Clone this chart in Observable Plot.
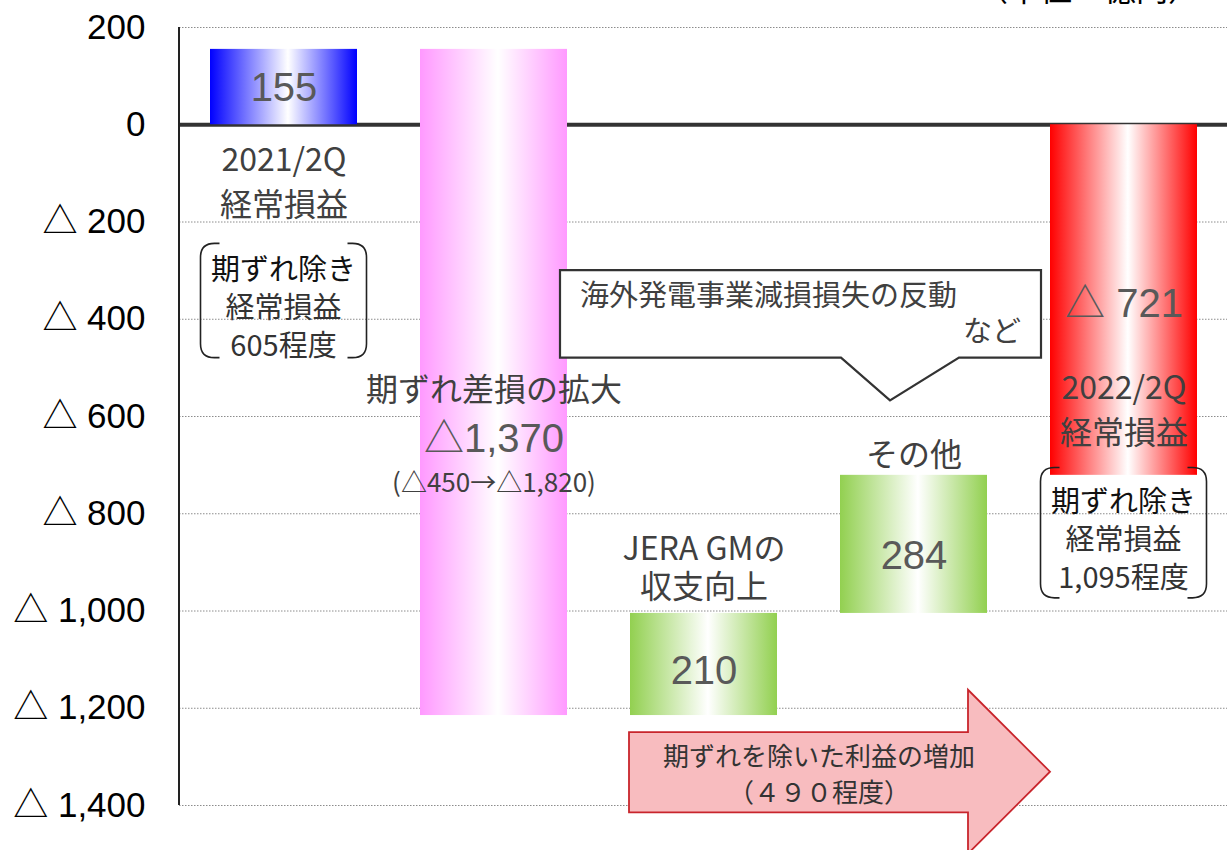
<!DOCTYPE html>
<html><head><meta charset="utf-8">
<script src="https://cdn.jsdelivr.net/npm/d3@7"></script>
<script src="https://cdn.jsdelivr.net/npm/@observablehq/plot@0.6"></script>
<style>html,body{margin:0;padding:0;background:#fff;} #chart{width:1227px;height:850px;overflow:hidden;}</style>
</head><body><div id="chart"></div>
<script>
// ---- data ----
const categories = ["2021/2Q経常損益", "期ずれ差損の拡大", "JERA GMの収支向上", "その他", "2022/2Q経常損益"];
const values = [155, -1370, 210, 284, -721];
const barKinds = ["total", "delta", "delta", "delta", "total"];
const valueLabels = ["155", "△1,370", "210", "284", "△ 721"];
const categoryLabels = ["2021/2Q\n経常損益", "期ずれ差損の拡大", "JERA GMの\n収支向上", "その他", "2022/2Q\n経常損益"];
const yTicks = [200, 0, -200, -400, -600, -800, -1000, -1200, -1400];
const breakdownNote = "(△450→△1,820)";
const note1 = ["期ずれ除き", "経常損益", "605程度"];
const note2 = ["期ずれ除き", "経常損益", "1,095程度"];
const calloutLines = ["海外発電事業減損損失の反動", "など"];
const arrowLines = ["期ずれを除いた利益の増加", "（４９０程度）"];
const unitLabel = "（単位：億円）";

// ---- build waterfall rows ----
let run = 0;
const rows = categories.map((c, i) => {
  let y1, y2;
  if (barKinds[i] === "total") { y1 = 0; y2 = values[i]; }
  else { y1 = run; y2 = run + values[i]; }
  run = y2;
  return {cat: c, y1, y2, mid: (y1 + y2) / 2, top: Math.max(y1, y2), bottom: Math.min(y1, y2)};
});

// ---- styles ----
const gradIds = ["gBlue", "gPink", "gGreen", "gGreen", "gRed"];
const gradColors = {gBlue: "#0000ff", gPink: "#ff99ff", gGreen: "#92d050", gRed: "#ff0000"};
const numFont = "'Liberation Sans', 'Noto Sans CJK JP', sans-serif";
const jpFont = "'Noto Sans CJK JP', sans-serif";
const fmt = v => v < 0 ? "△ " + d3.format(",")(-v) : String(v);

const valueDy = [1, 57, 7, 12, 4];
const catAnchor = ["y1", "mid", "top", "top", "bottom"];
const catDy = [54, 6, -47, -22, -68];
const catLH = [1.4, 1.2, 1.2, 1.2, 1.4];

const W = 1227, H = 850, ML = 179, MT = 27, MB = 45;

const plot = Plot.plot({
  width: W, height: H,
  marginLeft: ML, marginRight: 0, marginTop: MT, marginBottom: MB,
  style: {fontFamily: jpFont, background: "#fff", overflow: "hidden"},
  x: {domain: categories, paddingInner: 0.3, paddingOuter: 0.143, axis: null},
  y: {domain: [-1400, 200], axis: null},
  marks: [
    Plot.gridY(yTicks, {stroke: "#8c8c8c", strokeOpacity: 1, strokeDasharray: "1.5,1.5", strokeWidth: 1}),
    Plot.axisY(yTicks, {tickFormat: fmt, tickSize: 0, tickPadding: 34, fontSize: 35, fontFamily: numFont}),
    Plot.ruleY([0], {stroke: "#333", strokeWidth: 4}),
    ...rows.map((r, i) => Plot.barY([r], {x: "cat", y1: "y1", y2: "y2", fill: `url(#${gradIds[i]})`, inset: 0})),
    ...rows.map((r, i) => Plot.text([r], {
      x: "cat", y: "mid", text: () => valueLabels[i], dy: valueDy[i],
      fontSize: 40, fontFamily: numFont, fill: "#595959"
    })),
    ...rows.map((r, i) => Plot.text([r], {
      x: "cat", y: catAnchor[i], text: () => categoryLabels[i], dy: catDy[i],
      lineHeight: catLH[i], lineAnchor: "middle",
      fontSize: 32, fontFamily: jpFont, fill: "#404040"
    })),
    Plot.text([rows[1]], {x: "cat", y: "mid", text: () => breakdownNote, dy: 101, fontSize: 26, fontFamily: jpFont, fill: "#404040"})
  ]
});

document.getElementById("chart").appendChild(plot);

// ---- gradients & annotations ----
const svg = d3.select(plot);
const defs = svg.insert("defs", ":first-child");
for (const [id, col] of Object.entries(gradColors)) {
  const g = defs.append("linearGradient").attr("id", id).attr("x1", "0").attr("x2", "1").attr("y1", "0").attr("y2", "0");
  g.append("stop").attr("offset", "0").attr("stop-color", col);
  g.append("stop").attr("offset", "0.53").attr("stop-color", "#ffffff");
  g.append("stop").attr("offset", "1").attr("stop-color", col);
}

const xs = plot.scale("x");
const bw = xs.bandwidth;
const bx = c => xs.apply(c);
const ys = v => plot.scale("y").apply(v);

const ann = svg.append("g");

// vertical axis line
ann.append("line").attr("x1", ML).attr("x2", ML).attr("y1", ys(200)).attr("y2", ys(-1400))
  .attr("stroke", "#222").attr("stroke-width", 2);

// bracket boxes
function bracketBox(cx, yTop, yBot, halfW, lines) {
  const r = 14, tail = 5;
  const x0 = cx - halfW, x1 = cx + halfW;
  const p = `M${x0 + r + tail},${yTop} L${x0 + r},${yTop} Q${x0},${yTop} ${x0},${yTop + r} L${x0},${yBot - r} Q${x0},${yBot} ${x0 + r},${yBot} L${x0 + r + tail},${yBot}` +
    ` M${x1 - r - tail},${yTop} L${x1 - r},${yTop} Q${x1},${yTop} ${x1},${yTop + r} L${x1},${yBot - r} Q${x1},${yBot} ${x1 - r},${yBot} L${x1 - r - tail},${yBot}`;
  ann.append("path").attr("d", p).attr("fill", "none").attr("stroke", "#222").attr("stroke-width", 1.6);
  const cy = (yTop + yBot) / 2 + 4;
  lines.forEach((t, i) => {
    ann.append("text").attr("x", cx).attr("y", cy + (i - 1) * 38)
      .attr("text-anchor", "middle").attr("dominant-baseline", "central")
      .attr("font-family", jpFont).attr("font-size", 29)
      .attr("fill", i === 0 ? "#111" : "#333").text(t);
  });
}
bracketBox(bx(categories[0]) + bw / 2, ys(-245), ys(-480), 83, note1);
bracketBox(bx(categories[4]) + bw / 2, ys(-706), ys(-974), 83, note2);

// callout
{
  const left = bx(categories[2]) - 70, right = bx(categories[4]) - 9;
  const top = ys(-300), bot = ys(-480), tipY = ys(-568);
  const b1 = bx(categories[3]) + 1, tipX = bx(categories[3]) + 50, b2 = bx(categories[3]) + 119;
  ann.append("path")
    .attr("d", `M${left},${top} H${right} V${bot} H${b2} L${tipX},${tipY} L${b1},${bot} H${left} Z`)
    .attr("fill", "#fff").attr("stroke", "#333").attr("stroke-width", 2.2).attr("stroke-linejoin", "miter");
  ann.append("text").attr("x", left + 20).attr("y", top + 23).attr("dominant-baseline", "central")
    .attr("text-anchor", "start")
    .attr("font-family", jpFont).attr("font-size", 29).attr("fill", "#404040").text(calloutLines[0]);
  ann.append("text").attr("x", right - 20).attr("y", top + 59).attr("dominant-baseline", "central")
    .attr("text-anchor", "end")
    .attr("font-family", jpFont).attr("font-size", 29).attr("fill", "#404040").text(calloutLines[1]);
}

// big arrow
{
  const left = bx(categories[2]) - 1, neck = bx(categories[3]) + 128, tip = bx(categories[4]);
  const bTop = ys(-1250), bBot = ys(-1415), hTop = ys(-1163), hBot = ys(-1500);
  const tipY = (hTop + hBot) / 2;
  ann.append("path")
    .attr("d", `M${left},${bTop} H${neck} V${hTop} L${tip},${tipY} L${neck},${hBot} V${bBot} H${left} Z`)
    .attr("fill", "#f8bcbf").attr("stroke", "#c8252c").attr("stroke-width", 1.8);
  const cx = left + 190, cy = (bTop + bBot) / 2;
  arrowLines.forEach((t, i) => {
    ann.append("text").attr("x", cx).attr("y", cy + (i === 0 ? -18 : 18))
      .attr("text-anchor", "middle").attr("dominant-baseline", "central")
      .attr("font-family", jpFont).attr("font-size", 26).attr("fill", "#333").text(t);
  });
}

// unit label (cut off at top edge, as in the source)
ann.append("text").attr("x", 1200).attr("y", 1).attr("text-anchor", "end")
  .attr("font-family", jpFont).attr("font-size", 32).attr("fill", "#000").text(unitLabel);
</script>
</body></html>
